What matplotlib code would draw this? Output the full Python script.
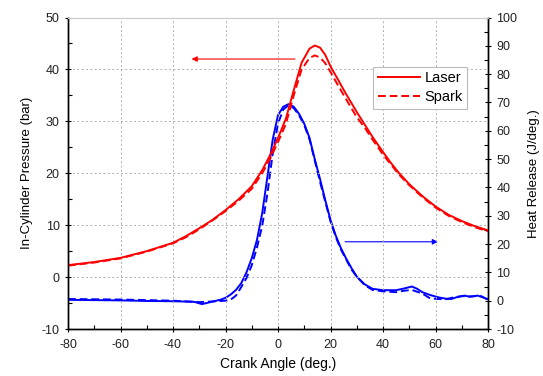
import numpy as np
import matplotlib
matplotlib.use('Agg')
from matplotlib import pyplot as plt
from matplotlib.ticker import MultipleLocator

# in-cylinder pressure (bar), left axis
p_laser_x = [-80, -70, -60, -50, -40, -35, -30, -25, -20, -15, -10, -6, -3, 0, 3, 6, 9, 12, 14, 16, 18,
             20, 23, 26, 30, 33, 36, 40, 43, 46, 50, 55, 60, 65, 70, 75, 80]
p_laser = [2.3, 2.9, 3.7, 5.0, 6.6, 7.9, 9.4, 11.0, 12.9, 15.0, 17.5, 20.6, 23.5, 26.8, 30.5, 36.0, 41.3, 44.0,
           44.6, 44.2, 42.8, 40.6, 37.9, 35.2, 31.8, 29.4, 27.0, 24.1, 22.0, 20.1, 17.9, 15.6, 13.6, 12.0,
           10.8, 9.8, 9.0]
p_spark_x = [-80, -70, -60, -50, -40, -35, -30, -25, -20, -15, -10, -6, -3, 0, 3, 6, 9, 12, 14, 16, 18,
             20, 23, 26, 30, 33, 36, 40, 43, 46, 50, 55, 60, 65, 70, 75, 80]
p_spark = [2.2, 2.8, 3.6, 4.9, 6.5, 7.7, 9.2, 10.9, 12.7, 14.7, 17.0, 20.0, 22.8, 26.0, 29.5, 35.0, 40.0,
           42.2, 42.7, 42.3, 41.2, 39.5, 36.8, 34.2, 30.8, 28.8, 26.5, 23.6, 21.7, 19.8, 17.7, 15.4, 13.4,
           11.8, 10.6, 9.6, 8.8]

# heat release (J/deg.), right axis
hr_laser_x = [-80, -70, -60, -50, -40, -32, -29, -27, -25, -22, -20, -18, -16, -14, -12, -10, -8, -6, -4,
              -2, 0, 2, 4, 6, 8, 10, 12, 14, 16, 18, 20, 22, 24, 26, 28, 30, 33, 36, 40, 45, 48, 51, 53,
              55, 58, 61, 64, 66, 68, 71, 73, 76, 78, 80]
hr_laser = [0.3, 0.2, 0.1, -0.1, -0.2, -0.4, -1.2, -0.8, -0.3, 0.3, 1.0, 2.2, 3.8, 6.2, 10.0, 15.0, 21.5,
            31.0, 44.0, 57.0, 65.5, 68.5, 69.4, 68.5, 66.0, 62.5, 57.5, 50.0, 43.0, 35.5, 28.5, 23.0, 18.5,
            14.8, 11.5, 8.5, 5.8, 4.2, 3.7, 3.7, 4.3, 5.0, 4.2, 3.0, 2.0, 1.2, 0.7, 0.6, 1.2, 1.8, 1.4,
            1.8, 1.2, 0.5]
hr_spark_x = [-80, -60, -40, -30, -25, -20, -18, -16, -14, -12, -10, -8, -6, -4, -2, 0, 2, 4, 6, 8, 10,
              12, 14, 16, 18, 20, 22, 24, 26, 28, 30, 33, 36, 40, 45, 48, 51, 55, 58, 61, 64, 67, 70,
              74, 77, 80]
hr_spark = [0.6, 0.4, 0.0, -0.5, -0.3, 0.0, 0.4, 1.8, 4.8, 8.0, 12.5, 18.8, 26.5, 38.0, 52.0, 62.5, 67.5,
            69.0, 68.0, 65.5, 62.0, 57.0, 49.5, 42.0, 35.0, 28.0, 22.5, 18.0, 14.5, 11.0, 8.5, 5.5, 3.8,
            3.3, 3.0, 3.5, 3.8, 2.5, 0.8, 0.6, 0.5, 1.2, 1.6, 1.5, 1.8, 0.3]

plt.rcParams['font.family'] = ['Liberation Sans', 'DejaVu Sans']
plt.rcParams['axes.unicode_minus'] = False

fig = plt.figure(figsize=(5.43, 3.76), dpi=100)
ax = fig.add_axes([68 / 543, 1 - 329 / 376, 420 / 543, 311.5 / 376])
ax2 = ax.twinx()

red = '#ff0000'
blue = '#0000ff'
dash = (0, (4, 2))

l1, = ax.plot(p_laser_x, p_laser, color=red, lw=1.4, label='Laser')
l2, = ax.plot(p_spark_x, p_spark, color=red, lw=1.4, ls=dash, label='Spark')
ax2.plot(hr_laser_x, hr_laser, color=blue, lw=1.4)
ax2.plot(hr_spark_x, hr_spark, color=blue, lw=1.4, ls=dash)

ax.set_xlim(-80, 80)
ax.set_ylim(-10, 50)
ax2.set_ylim(-10, 100)

ax.xaxis.set_major_locator(MultipleLocator(20))
ax.xaxis.set_minor_locator(MultipleLocator(10))
ax.yaxis.set_major_locator(MultipleLocator(10))
ax.yaxis.set_minor_locator(MultipleLocator(5))
ax2.yaxis.set_major_locator(MultipleLocator(10))
ax2.yaxis.set_minor_locator(MultipleLocator(5))

ax.grid(True, which='major', color='#b0b0b0', ls=(0, (2, 2.5)), lw=0.7)

for a in (ax, ax2):
    a.tick_params(which='major', direction='inout', length=5, width=0.8, labelsize=9, labelcolor='#222222')
    a.tick_params(which='minor', direction='in', length=3, width=0.8)
    a.spines['top'].set_color('#cccccc')
    for s in ('left', 'right', 'bottom'):
        a.spines[s].set_linewidth(1.0)
ax.tick_params(axis='x', which='major', pad=5)

ax.set_xlabel('Crank Angle (deg.)', fontsize=10, labelpad=4)
ax.set_ylabel('In-Cylinder Pressure (bar)', fontsize=9.5, labelpad=6)
ax2.set_ylabel('Heat Release (J/deg.)', fontsize=9.5, labelpad=8)

# direction arrows
ax.annotate('', xy=(-34, 42), xytext=(7.5, 42),
            arrowprops=dict(arrowstyle='-|>', color=red, lw=0.8, mutation_scale=8))
ax2.annotate('', xy=(62, 20.8), xytext=(24.5, 20.8),
             arrowprops=dict(arrowstyle='-|>', color=blue, lw=0.8, mutation_scale=8))

leg = ax.legend(handles=[l1, l2], loc='upper right', bbox_to_anchor=(0.95, 0.842), fontsize=10.5,
                fancybox=False, framealpha=1, edgecolor='#bbbbbb', handlelength=2.9,
                borderpad=0.3, labelspacing=0.35, handletextpad=0.3, borderaxespad=0)
leg.get_frame().set_linewidth(0.8)
ax.set_zorder(ax2.get_zorder() + 1)
ax.patch.set_visible(False)

plt.savefig('out.png', dpi=100)
plt.close()
